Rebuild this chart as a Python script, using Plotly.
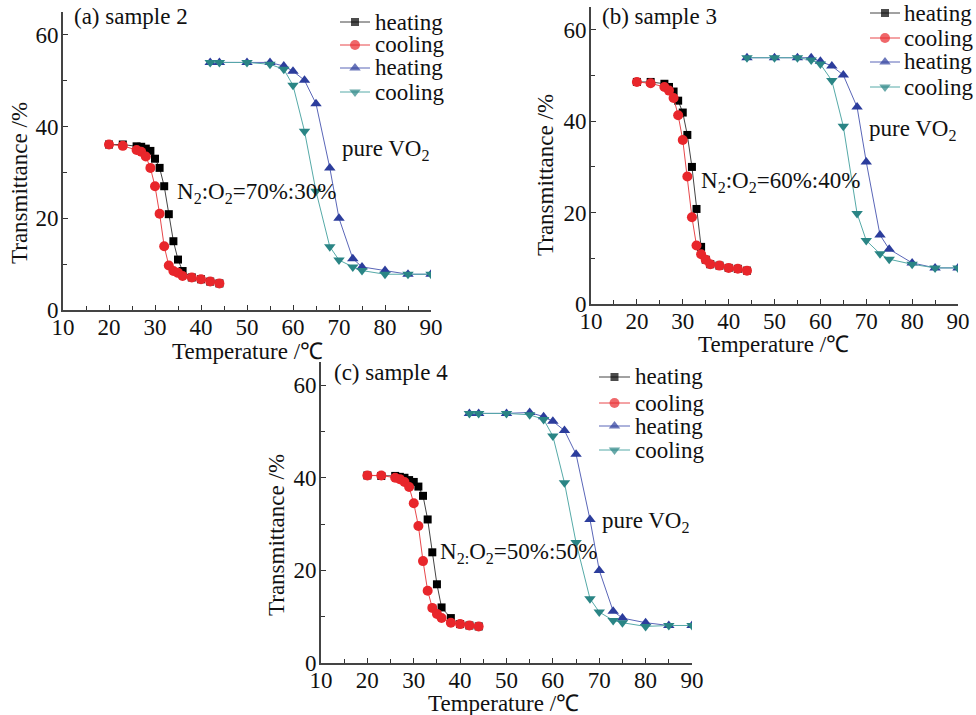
import plotly.graph_objects as go

# ---------------- data ----------------
T_film = [20, 23, 26, 27, 28, 29, 30, 31, 32, 33, 34, 35, 36, 38, 40, 42, 44]

a_heat = [36.1, 36.1, 35.7, 35.6, 35.2, 34.7, 33.0, 31.0, 27.0, 20.9, 15.0, 11.0, 8.5, 7.1, 6.7, 6.2, 5.8]
a_cool = [36.1, 35.8, 34.9, 34.5, 33.5, 31.0, 27.0, 21.0, 13.9, 9.7, 8.5, 8.1, 7.4, 7.1, 6.7, 6.2, 5.8]

b_heat = [48.6, 48.6, 48.2, 47.5, 46.5, 44.5, 41.9, 37.0, 30.0, 20.8, 12.5, 9.7, 8.7, 8.4, 7.9, 7.7, 7.3]
b_cool = [48.6, 48.3, 47.5, 46.7, 45.1, 41.3, 35.9, 27.9, 19.0, 12.8, 10.9, 9.7, 8.7, 8.4, 7.9, 7.7, 7.3]

c_heat = [40.5, 40.4, 40.4, 40.2, 40.0, 39.5, 39.1, 38.1, 36.1, 31.0, 23.9, 17.0, 12.0, 9.7, 8.4, 8.1, 7.9]
c_cool = [40.5, 40.5, 40.0, 39.7, 39.1, 38.0, 34.5, 29.6, 22.0, 15.6, 11.9, 10.6, 9.7, 8.7, 8.4, 8.1, 7.9]

T_vo2_ac = [42, 44, 50, 55, 58, 60, 62.5, 65, 68, 70, 73, 75, 80, 85, 90]
a_vo2_heat = [54, 54, 54, 54, 53.2, 52.1, 50.1, 45.0, 31.0, 20.0, 11.2, 9.4, 8.6, 7.8, 7.8]
a_vo2_cool = [54, 54, 54, 53.6, 52.5, 49.0, 39.0, 25.9, 13.8, 10.9, 9.4, 8.6, 7.8, 7.8, 7.8]

T_vo2_b = [44, 50, 55, 58, 60, 62.5, 65, 68, 70, 73, 75, 80, 85, 90]
b_vo2_heat = [53.9, 53.9, 53.9, 53.9, 53.1, 52.1, 50.1, 43.1, 31.1, 15.1, 12.0, 9.0, 7.9, 7.9]
b_vo2_cool = [53.9, 53.9, 53.9, 53.4, 52.5, 48.9, 38.9, 19.8, 13.9, 11.0, 9.8, 8.7, 7.9, 7.9]

c_vo2_heat = [53.9, 53.9, 53.9, 54.1, 53.2, 52.2, 50.2, 45.1, 31.0, 20.0, 11.2, 9.7, 8.7, 8.1, 8.1]
c_vo2_cool = [53.9, 53.9, 53.9, 53.6, 52.6, 49.0, 38.9, 26.0, 13.9, 11.0, 9.2, 8.7, 7.9, 8.1, 8.1]

panel_titles = ["(a) sample 2", "(b) sample 3", "(c) sample 4"]
ratio_labels = ["N<sub>2</sub>:O<sub>2</sub>=70%:30%",
                "N<sub>2</sub>:O<sub>2</sub>=60%:40%",
                "N<sub>2:</sub>O<sub>2</sub>=50%:50%"]
legend_names = ["heating", "cooling", "heating", "cooling"]
x_ticks = [10, 20, 30, 40, 50, 60, 70, 80, 90]
y_ticks = [0, 20, 40, 60]

# ---------------- style ----------------
W, H = 976, 715
FONT = "Liberation Serif, Times New Roman, serif"
FS = 23
TXT = "#111111"
marker_cols = ["#000000", "#e8262b", "#2c3d9c", "#2a8585"]
line_cols = ["#444444", "#e8474b", "#5a66b8", "#56aaa8"]
symbols = ["square", "circle", "triangle-up", "triangle-down"]
msizes = [8, 10, 10, 10]

# panel pixel boxes: (x_left, x_right, y_top, y_bottom)
boxes = [(63, 431, 12, 310), (591, 958, 7, 304), (321, 692, 362, 663)]

# legend key geometry (pixels): line start x, line end x, text x, row y centres
legend_geo = [
    (340, 370, 373, [22, 45, 68, 92]),
    (870, 900, 902, [13, 38, 62, 87]),
    (599, 630, 633, [377, 403, 426, 450]),
]

def px_x(p):
    return p / W

def px_y(p):
    return 1 - p / H

fig = go.Figure()

panels = [
    (T_film, a_heat, a_cool, T_vo2_ac, a_vo2_heat, a_vo2_cool),
    (T_film, b_heat, b_cool, T_vo2_b, b_vo2_heat, b_vo2_cool),
    (T_film, c_heat, c_cool, T_vo2_ac, c_vo2_heat, c_vo2_cool),
]

for i, (Tf, yh, yc, Tv, vh, vc) in enumerate(panels):
    xa = "x" if i == 0 else f"x{i+1}"
    ya = "y" if i == 0 else f"y{i+1}"
    series = [(Tf, yh), (Tf, yc), (Tv, vh), (Tv, vc)]
    for k, (xs, ys) in enumerate(series):
        fig.add_trace(go.Scatter(
            x=xs, y=ys, mode="lines+markers", name=legend_names[k],
            xaxis=xa, yaxis=ya, showlegend=False,
            line=dict(color=line_cols[k], width=1),
            marker=dict(symbol=symbols[k], size=msizes[k], color=marker_cols[k], line=dict(width=0)),
        ))

# legend keys drawn on a full-figure pixel overlay axis
for i, (x0, x1, xt, rows) in enumerate(legend_geo):
    for k, ry in enumerate(rows):
        fig.add_trace(go.Scatter(
            x=[x0, (x0 + x1) / 2, x1], y=[ry, ry, ry], mode="lines+markers",
            xaxis="x4", yaxis="y4", showlegend=False, hoverinfo="skip",
            line=dict(color=line_cols[k], width=1),
            marker=dict(symbol=symbols[k], size=[0, msizes[k], 0], color=marker_cols[k], line=dict(width=0)),
        ))

layout = dict(
    width=W, height=H,
    margin=dict(l=0, r=0, t=0, b=0, autoexpand=False),
    paper_bgcolor="white", plot_bgcolor="rgba(0,0,0,0)",
    font=dict(family=FONT, size=FS, color=TXT),
    showlegend=False,
)

for i, (xl, xr, yt, yb) in enumerate(boxes):
    sx = "" if i == 0 else str(i + 1)
    layout[f"xaxis{sx}"] = dict(
        domain=[px_x(xl), px_x(xr)], range=[10, 90], anchor=f"y{sx}",
        tickvals=x_ticks, ticks="inside", ticklen=5, tickwidth=1.2, tickcolor="#333",
        showline=True, linecolor="#444", linewidth=2, showgrid=False, zeroline=False,
        minor=dict(dtick=5, tick0=0, ticks="inside", ticklen=4, tickwidth=1.2, tickcolor="#333"),
        tickfont=dict(family=FONT, size=FS, color=TXT),
        automargin=False, ticklabelstandoff=-5,
    )
    layout[f"yaxis{sx}"] = dict(
        domain=[px_y(yb), px_y(yt)], range=[0, 65], anchor=f"x{sx}",
        tickvals=y_ticks, ticks="inside", ticklen=5, tickwidth=1.2, tickcolor="#333",
        showline=True, linecolor="#444", linewidth=2, showgrid=False, zeroline=False,
        minor=dict(dtick=10, tick0=0, ticks="inside", ticklen=4, tickwidth=1.2, tickcolor="#333"),
        tickfont=dict(family=FONT, size=FS, color=TXT),
        automargin=False, ticklabelstandoff=-2,
    )

layout["xaxis4"] = dict(domain=[0, 1], range=[0, W], anchor="y4", visible=False, fixedrange=True)
layout["yaxis4"] = dict(domain=[0, 1], range=[H, 0], anchor="x4", visible=False, fixedrange=True)

# text positions (pixels)
lab_pos = [(72, 16), (600, 16), (332, 372)]
pure_pos = [(340, 150), (867, 130), (600, 522)]
ratio_pos = [(175, 193), (699, 182), (438, 553)]
ytitle_pos = [(19, 183), (545, 175), (276, 535)]
xtitle_pos = [(247, 351), (773, 344), (503, 703)]

annotations = []

def add_text(text, x, y, xanchor="left", angle=0):
    annotations.append(dict(text=text, x=px_x(x), y=px_y(y), xref="paper", yref="paper",
                            xanchor=xanchor, yanchor="middle", textangle=angle,
                            showarrow=False, font=dict(family=FONT, size=FS, color=TXT)))

for i in range(3):
    add_text(panel_titles[i], *lab_pos[i])
    add_text("pure VO<sub>2</sub>", *pure_pos[i])
    add_text(ratio_labels[i], *ratio_pos[i])
    add_text("Transmittance /%", *ytitle_pos[i], xanchor="center", angle=-90)
    add_text("Temperature /℃", *xtitle_pos[i], xanchor="center")
    x0, x1, xt, rows = legend_geo[i]
    for k, ry in enumerate(rows):
        add_text(legend_names[k], xt, ry)

layout["annotations"] = annotations
fig.update_layout(**layout)
fig.write_html(
    "out.html",
    config={"displayModeBar": False},
    post_script="document.body.style.margin='0';document.body.style.overflow='hidden';",
)
